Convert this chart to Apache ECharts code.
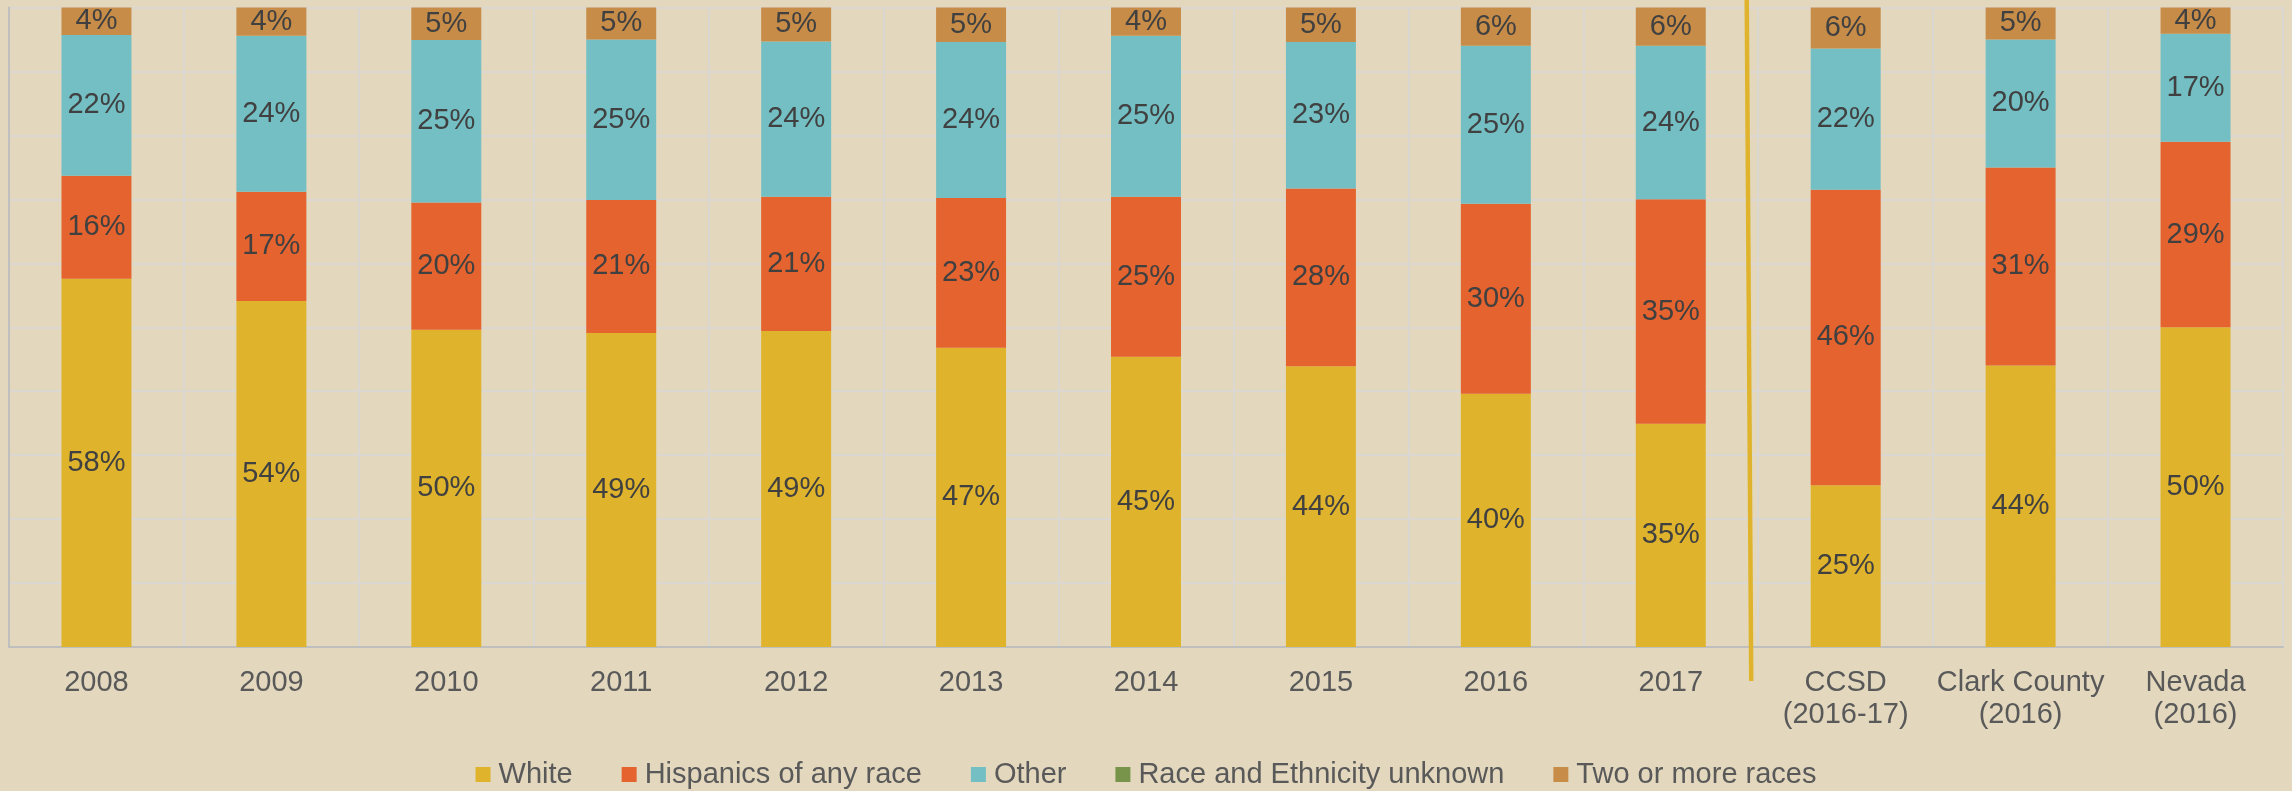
<!DOCTYPE html>
<html>
<head>
<meta charset="utf-8">
<script src="https://cdn.jsdelivr.net/npm/echarts@6/dist/echarts.min.js"></script>
<style>
  html, body { margin: 0; padding: 0; background: #E3D8BE; }
  #chart { width: 2292px; height: 791px; }
</style>
</head>
<body>
<div id="chart"></div>
<script>
const categories = ['2008', '2009', '2010', '2011', '2012', '2013', '2014', '2015', '2016', '2017',
  'CCSD\n(2016-17)', 'Clark County\n(2016)', 'Nevada\n(2016)'];
const white     = [57.6, 54.1, 49.6, 49.1, 49.4, 46.8, 45.4, 43.9, 39.6, 34.9, 25.3, 44.0, 50.0];
const hispanic  = [16.1, 17.1, 19.9, 20.8, 21.0, 23.4, 25.0, 27.8, 29.7, 35.1, 46.2, 31.0, 29.0];
const other     = [22.0, 24.4, 25.4, 25.1, 24.3, 24.4, 25.2, 22.9, 24.7, 24.0, 22.1, 20.0, 16.9];
const unknown   = [0, 0, 0, 0, 0, 0, 0, 0, 0, 0, 0, 0, 0];
const twoOrMore = [4.3, 4.4, 5.1, 5.0, 5.3, 5.4, 4.4, 5.4, 6.0, 6.0, 6.4, 5.0, 4.1];
const yTicks = [0, 10, 20, 30, 40, 50, 60, 70, 80, 90, 100];

const FONT = "'Liberation Sans', Arial, sans-serif";
const chart = echarts.init(document.getElementById('chart'), null, { renderer: 'canvas' });

const labelCfg = {
  show: true,
  position: 'inside',
  color: '#404040',
  fontSize: 29,
  fontFamily: FONT,
  formatter: p => Math.round(p.value) + '%'
};

function bar(name, data, color, showLabel) {
  return {
    name: name,
    type: 'bar',
    stack: 'total',
    data: data,
    barWidth: '40%',
    itemStyle: { color: color },
    label: showLabel ? labelCfg : { show: false },
    emphasis: { disabled: true }
  };
}

chart.setOption({
  backgroundColor: '#E3D8BE',
  animation: false,
  grid: { left: 9, right: 9, top: 7.5, bottom: 144, containLabel: false },
  legend: {
    top: 755,
    left: 'center',
    itemWidth: 15,
    itemHeight: 15,
    itemGap: 49,
    icon: 'rect',
    textStyle: { color: '#595959', fontSize: 29, fontFamily: FONT, padding: [0, 0, 0, 3] },
    data: ['White', 'Hispanics of any race', 'Other', 'Race and Ethnicity unknown', 'Two or more races']
  },
  xAxis: {
    type: 'category',
    data: categories,
    axisLine: { show: true, lineStyle: { color: '#BFBFBF', width: 2 } },
    axisTick: { show: false },
    splitLine: { show: true, interval: 0, lineStyle: { color: '#DAD7D0', width: 2 } },
    axisLabel: {
      interval: 0,
      color: '#595959',
      fontSize: 29,
      fontFamily: FONT,
      lineHeight: 32,
      margin: 20
    }
  },
  yAxis: {
    type: 'value',
    min: yTicks[0],
    max: yTicks[yTicks.length - 1],
    interval: 10,
    axisLine: { show: true, lineStyle: { color: '#BFBFBF', width: 2 } },
    axisTick: { show: false },
    axisLabel: { show: false },
    splitLine: { show: true, lineStyle: { color: '#DAD7D0', width: 2 } }
  },
  series: [
    bar('White', white, '#DFB42C', true),
    bar('Hispanics of any race', hispanic, '#E5632E', true),
    bar('Other', other, '#73BFC4', true),
    bar('Race and Ethnicity unknown', unknown, '#77944A', false),
    bar('Two or more races', twoOrMore, '#C78C48', true)
  ]
});

// Separator line between the yearly series and the comparison bars
const x9 = chart.convertToPixel({ xAxisIndex: 0 }, 9);
const x10 = chart.convertToPixel({ xAxisIndex: 0 }, 10);
const boundary = (x9 + x10) / 2;
const yBase = chart.convertToPixel({ yAxisIndex: 0 }, 0);
chart.setOption({
  graphic: [{
    type: 'line',
    silent: true,
    z: 100,
    shape: { x1: boundary - 11.5, y1: 0, x2: boundary - 7, y2: yBase + 34 },
    style: { stroke: '#DFB42C', lineWidth: 4.5 }
  }]
});
</script>
</body>
</html>
